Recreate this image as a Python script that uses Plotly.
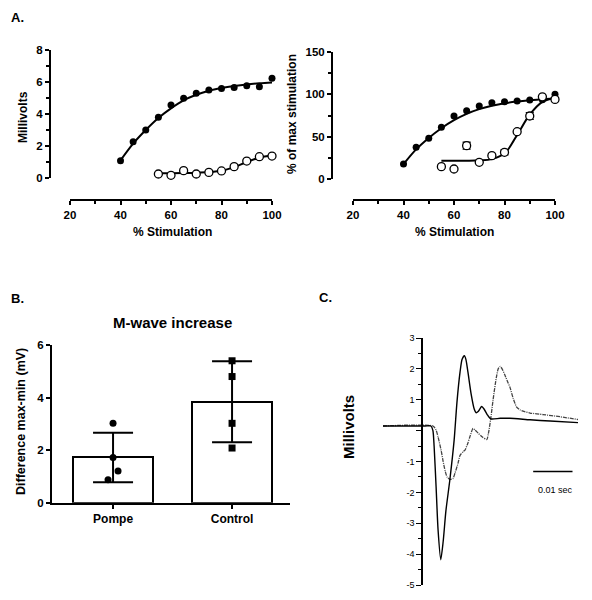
import plotly.graph_objects as go

# page body has an 8px default margin: figure is sized to fit the window exactly
OFF = 8
W, H = 592 - OFF, 600 - OFF
def px(x): return (x - OFF) / W
def py(y): return 1 - (y - OFF) / H

FONT = "Liberation Sans, Arial, sans-serif"

# ---------------- Panel A data ----------------
stim_full = [40, 45, 50, 55, 60, 65, 70, 75, 80, 85, 90, 95, 100]
control_mv = [1.08, 2.27, 3.0, 3.79, 4.56, 4.98, 5.29, 5.5, 5.6, 5.65, 5.77, 5.71, 6.23]
control_mv_fit = [1.1, 2.15, 3.0, 3.75, 4.35, 4.85, 5.2, 5.45, 5.62, 5.75, 5.85, 5.92, 5.97]
stim_pompe = [55, 60, 65, 70, 75, 80, 85, 90, 95, 100]
pompe_mv = [0.25, 0.17, 0.46, 0.25, 0.35, 0.44, 0.71, 1.06, 1.33, 1.37]
pompe_mv_fit = [0.3, 0.3, 0.31, 0.33, 0.37, 0.45, 0.68, 1.0, 1.27, 1.4]

control_pct = [17.7, 37.4, 48, 61, 74.4, 80.7, 86.2, 90.1, 91.3, 92, 93.3, 93.7, 100]
control_pct_fit = [17.5, 35, 48.5, 60, 69.5, 77, 82.5, 86.5, 89.5, 91.5, 93, 94.2, 95]
pompe_pct = [14.6, 11.8, 39.4, 19.7, 27.6, 31.5, 55.9, 74.4, 97, 94]
pompe_pct_err = [0, 0, 4, 0, 0, 3, 0, 4, 0, 0]
pompe_pct_fit = [21.5, 21.5, 21.6, 22, 23.5, 30, 52, 76, 91, 96]

# ---------------- Panel B data ----------------
groups = ["Pompe", "Control"]
group_mean = [1.72, 3.84]
group_sd = [0.94, 1.54]
pompe_points = [3.02, 1.72, 1.21, 0.87]
pompe_jitter = [0.0, 0.0, 0.042, -0.042]
control_points = [5.40, 4.80, 3.02, 2.08]

# ---------------- Panel C data (ms, mV) ----------------
t_solid = [0.0, 10.7, 12.2, 12.7, 13.0, 13.5, 14.0, 14.7, 15.3, 16.0, 17.0, 18.1, 18.8,
           19.6, 20.1, 20.7, 21.1, 21.6, 22.4, 23.2, 23.7, 24.2, 25.1, 25.7, 26.5,
           27.4, 29.8, 32.3, 37.4, 42.5, 49.6]
v_solid = [0.15, 0.15, 0.15, 0.0, -0.5, -1.8, -3.2, -4.18, -3.6, -2.6, -1.6, -0.3, 0.9,
           1.9, 2.3, 2.43, 2.3, 1.9, 1.2, 0.7, 0.58, 0.62, 0.78, 0.7, 0.52,
           0.38, 0.4, 0.4, 0.35, 0.31, 0.26]
t_dash = [0.0, 12.7, 13.5, 14.0, 14.8, 15.3, 15.8, 16.3, 17.0, 17.8, 18.3, 19.1, 19.6,
          20.4, 20.9, 21.6, 22.1, 22.9, 23.4, 24.2, 25.2, 26.4, 26.8, 27.4, 28.0,
          28.8, 29.3, 29.8, 30.3, 31.0, 31.8, 32.3, 33.1, 34.0, 34.9, 35.6, 37.4,
          40.7, 45.0, 49.6]
v_dash = [0.15, 0.15, 0.02, -0.2, -0.65, -1.0, -1.3, -1.5, -1.58, -1.55, -1.38, -1.05, -0.8,
          -0.68, -0.62, -0.4, -0.2, 0.07, 0.02, -0.08, -0.2, -0.29, -0.1, 0.38, 1.0,
          1.7, 2.0, 2.08, 2.0, 1.8, 1.55, 1.4, 1.05, 0.76, 0.67, 0.63, 0.57,
          0.52, 0.45, 0.36]
c_ticks = [-5, -4, -3, -2, -1, 0, 1, 2, 3]
c_ticktext = ["-5", "-4", "-3", "-2", "-1", "", "1", "2", "3"]
scale_bar_ms = [38.2, 48.2]
scale_bar_mv = -1.32

fig = go.Figure()

# Panel A left
fig.add_trace(go.Scatter(x=stim_full, y=control_mv_fit, mode="lines",
                         line=dict(color="black", width=2, shape="spline"),
                         xaxis="x", yaxis="y", cliponaxis=False, showlegend=False))
fig.add_trace(go.Scatter(x=stim_pompe, y=pompe_mv_fit, mode="lines",
                         line=dict(color="black", width=2, shape="spline"),
                         xaxis="x", yaxis="y", cliponaxis=False, showlegend=False))
fig.add_trace(go.Scatter(x=stim_full, y=control_mv, mode="markers",
                         marker=dict(color="black", size=7),
                         xaxis="x", yaxis="y", cliponaxis=False, showlegend=False))
fig.add_trace(go.Scatter(x=stim_pompe, y=pompe_mv, mode="markers",
                         marker=dict(color="white", size=8, line=dict(color="black", width=1.3)),
                         xaxis="x", yaxis="y", cliponaxis=False, showlegend=False))

# Panel A right
fig.add_trace(go.Scatter(x=stim_full, y=control_pct_fit, mode="lines",
                         line=dict(color="black", width=2, shape="spline"),
                         xaxis="x2", yaxis="y2", cliponaxis=False, showlegend=False))
fig.add_trace(go.Scatter(x=stim_pompe, y=pompe_pct_fit, mode="lines",
                         line=dict(color="black", width=2, shape="spline"),
                         xaxis="x2", yaxis="y2", cliponaxis=False, showlegend=False))
fig.add_trace(go.Scatter(x=stim_full, y=control_pct, mode="markers",
                         marker=dict(color="black", size=7),
                         xaxis="x2", yaxis="y2", cliponaxis=False, showlegend=False))
fig.add_trace(go.Scatter(x=stim_pompe, y=pompe_pct, mode="markers",
                         marker=dict(color="white", size=8, line=dict(color="black", width=1.3)),
                         error_y=dict(type="data", array=pompe_pct_err, color="black",
                                      thickness=1.3, width=4),
                         xaxis="x2", yaxis="y2", cliponaxis=False, showlegend=False))

# Panel B
fig.add_trace(go.Bar(x=[0, 1], y=group_mean, width=0.672,
                     marker=dict(color="white", line=dict(color="black", width=2)),
                     error_y=dict(type="data", array=group_sd, color="black",
                                  thickness=2, width=20),
                     xaxis="x3", yaxis="y3", showlegend=False))
fig.add_trace(go.Scatter(x=[0 + j for j in pompe_jitter], y=pompe_points, mode="markers",
                         marker=dict(color="black", size=7, symbol="circle"),
                         xaxis="x3", yaxis="y3", cliponaxis=False, showlegend=False))
fig.add_trace(go.Scatter(x=[1] * len(control_points), y=control_points, mode="markers",
                         marker=dict(color="black", size=7, symbol="square"),
                         xaxis="x3", yaxis="y3", cliponaxis=False, showlegend=False))

# Panel C
fig.add_trace(go.Scatter(x=t_dash, y=v_dash, mode="lines",
                         line=dict(color="#444444", width=1.3, dash="4px,1px,1px,1px",
                                   shape="spline", smoothing=0.6),
                         xaxis="x4", yaxis="y4", showlegend=False))
fig.add_trace(go.Scatter(x=t_solid, y=v_solid, mode="lines",
                         line=dict(color="black", width=1.4, shape="spline", smoothing=0.6),
                         xaxis="x4", yaxis="y4", showlegend=False))

tickfont = dict(family=FONT, size=11.5, color="black", weight="bold")
axis_common = dict(showline=True, linecolor="black", linewidth=2, ticks="outside",
                   ticklen=4, tickwidth=2, tickcolor="black", showgrid=False,
                   zeroline=False, tickfont=tickfont, automargin=False)
minor_x = dict(tickvals=[30, 50, 70, 90], ticks="outside", ticklen=3,
               tickwidth=2, tickcolor="black")

fig.update_layout(
    width=W, height=H, margin=dict(l=0, r=0, t=0, b=0, pad=0), autosize=False,
    paper_bgcolor="white", plot_bgcolor="rgba(0,0,0,0)",
    bargap=0,
    xaxis=dict(domain=[px(70), px(272)], range=[20, 100], anchor="free", position=py(200),
               tickvals=[20, 40, 60, 80, 100], minor=minor_x, **axis_common),
    yaxis=dict(domain=[py(178), py(50)], range=[0, 8], anchor="free", position=px(50),
               tickvals=[0, 2, 4, 6, 8],
               minor=dict(tickvals=[1, 3, 5, 7], ticks="outside", ticklen=3,
                          tickwidth=2, tickcolor="black"),
               **axis_common),
    xaxis2=dict(domain=[px(353), px(555)], range=[20, 100], anchor="free", position=py(200),
                tickvals=[20, 40, 60, 80, 100], minor=minor_x, **axis_common),
    yaxis2=dict(domain=[py(179), py(52)], range=[0, 150], anchor="free", position=px(332),
                tickvals=[0, 50, 100, 150],
                minor=dict(tickvals=[25, 75, 125], ticks="outside", ticklen=3,
                           tickwidth=2, tickcolor="black"),
                **axis_common),
    xaxis3=dict(domain=[px(52), px(290)], range=[-0.513, 1.487], anchor="y3",
                tickvals=[0, 1], ticktext=groups,
                **{**axis_common, "tickfont": dict(family=FONT, size=12, color="black", weight="bold")}),
    yaxis3=dict(domain=[py(502.7), py(345)], range=[0, 6], anchor="x3",
                tickvals=[0, 2, 4, 6], **axis_common),
    xaxis4=dict(domain=[px(383), px(578)], range=[0, 49.6], anchor="y4", visible=False,
                automargin=False),
    yaxis4=dict(domain=[py(585), py(338)], range=[-5, 3], anchor="free", position=px(422),
                showline=True, linecolor="black", linewidth=1.5, ticks="outside",
                ticklen=5, tickwidth=1.3, tickcolor="black", showgrid=False, zeroline=False,
                tickvals=c_ticks, ticktext=c_ticktext, automargin=False,
                tickfont=dict(family=FONT, size=9, color="black"),
                minor=dict(tickvals=[-4.5, -3.5, -2.5, -1.5, -0.5, 0.5, 1.5, 2.5],
                           ticks="outside", ticklen=3, tickwidth=1.2, tickcolor="black")),
)

def ann(text, x, y, size, angle=0, bold=True, xref="paper", yref="paper"):
    return dict(text=text, x=x, y=y, xref=xref, yref=yref, showarrow=False,
                textangle=angle, xanchor="center", yanchor="middle",
                font=dict(family=FONT, size=size, color="black",
                          weight="bold" if bold else "normal"))

annotations = [
    ann("A.", px(17), py(18), 13),
    ann("Millivolts", px(23), py(117), 12, -90),
    ann("% Stimulation", px(172), py(232), 12),
    ann("% of max stimulation", px(292), py(114), 12, -90),
    ann("% Stimulation", px(454), py(232), 12),
    ann("B.", px(17), py(298), 13),
    ann("M-wave increase", px(172), py(322), 15),
    ann("Difference max-min (mV)", px(21), py(422), 12.5, -90),
    ann("C.", px(325), py(297), 13),
    ann("Millivolts", px(348), py(427), 15, -90),
    ann("0.01 sec", (scale_bar_ms[0] + scale_bar_ms[1]) / 2 + 0.8, -1.92, 9, bold=False,
        xref="x4", yref="y4"),
]
fig.update_layout(annotations=annotations)

fig.add_shape(type="line", xref="x4", yref="y4",
              x0=scale_bar_ms[0], x1=scale_bar_ms[1], y0=scale_bar_mv, y1=scale_bar_mv,
              line=dict(color="black", width=1.5))

fig.write_html("out.html")
